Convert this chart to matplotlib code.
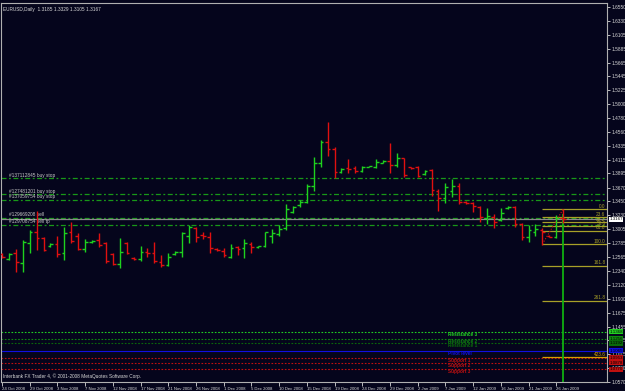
import matplotlib.pyplot as plt

plt.rcParams['font.family'] = ['Liberation Sans', 'DejaVu Sans']

# daily EURUSD bars, 24 Oct 2008 .. 27 Jan 2009 (MetaTrader keeps Sunday bars)
opens = [1.2611, 1.2532, 1.2627, 1.2468, 1.2787, 1.2962, 1.2867, 1.2739, 1.2771, 1.2627,
         1.2962, 1.2899, 1.2691, 1.2803, 1.2835, 1.2787, 1.2611, 1.2452, 1.2787, 1.2548,
         1.2532, 1.2643, 1.2627, 1.2484, 1.2436, 1.2611, 1.2643, 1.2899, 1.3026, 1.2915,
         1.2883, 1.2691, 1.2659, 1.2564, 1.2723, 1.2707, 1.2771, 1.2715, 1.2739, 1.2899,
         1.2931, 1.3026, 1.3281, 1.3393, 1.3441, 1.3696, 1.4063, 1.4398, 1.4286, 1.3919,
         1.3983, 1.3983, 1.3935, 1.3995, 1.3999, 1.4063, 1.4095, 1.4031, 1.4142, 1.3999,
         1.3999, 1.3887, 1.3951, 1.3616, 1.3505, 1.3616, 1.3696, 1.3441, 1.3425, 1.3361,
         1.3186, 1.3202, 1.3154, 1.3345, 1.3361, 1.3090, 1.2883, 1.2962, 1.2994, 1.2899,
         1.2883, 1.3185]
highs = [1.2627, 1.2627, 1.2691, 1.2835, 1.2994, 1.3297, 1.2883, 1.2787, 1.2899, 1.3042,
         1.3122, 1.2947, 1.2851, 1.2835, 1.2947, 1.2803, 1.2627, 1.2867, 1.2803, 1.2564,
         1.2739, 1.2707, 1.2803, 1.2596, 1.2627, 1.2659, 1.2962, 1.3074, 1.3042, 1.2962,
         1.2962, 1.2707, 1.2707, 1.2771, 1.2739, 1.2851, 1.2803, 1.2739, 1.2962, 1.3010,
         1.3074, 1.3409, 1.3377, 1.3473, 1.3728, 1.4158, 1.4429, 1.4717, 1.4318, 1.3983,
         1.4126, 1.4015, 1.4015, 1.4015, 1.4126, 1.4110, 1.4382, 1.4222, 1.4150, 1.4005,
         1.4015, 1.3951, 1.3967, 1.3648, 1.3744, 1.3807, 1.3744, 1.3457, 1.3433, 1.3369,
         1.3345, 1.3249, 1.3345, 1.3377, 1.3377, 1.3106, 1.3074, 1.3090, 1.3026, 1.2915,
         1.3234, 1.3329]
lows = [1.2548, 1.2516, 1.2324, 1.2324, 1.2627, 1.2675, 1.2659, 1.2723, 1.2564, 1.2516,
        1.2787, 1.2675, 1.2643, 1.2787, 1.2723, 1.2468, 1.2436, 1.2388, 1.2611, 1.2516,
        1.2500, 1.2564, 1.2468, 1.2404, 1.2420, 1.2596, 1.2564, 1.2787, 1.2803, 1.2851,
        1.2627, 1.2659, 1.2564, 1.2548, 1.2596, 1.2548, 1.2627, 1.2707, 1.2723, 1.2787,
        1.2899, 1.2994, 1.3265, 1.3361, 1.3425, 1.3616, 1.3999, 1.4174, 1.3823, 1.3903,
        1.3903, 1.3903, 1.3919, 1.3991, 1.3983, 1.4055, 1.3903, 1.3999, 1.3839, 1.3967,
        1.3839, 1.3871, 1.3536, 1.3297, 1.3425, 1.3521, 1.3409, 1.3409, 1.3281, 1.3122,
        1.3090, 1.3026, 1.3138, 1.3329, 1.3042, 1.2835, 1.2803, 1.2899, 1.2755, 1.2883,
        1.2867, 1.3105]
closes = [1.2564, 1.2611, 1.2484, 1.2803, 1.2962, 1.2867, 1.2675, 1.2771, 1.2611, 1.2947,
          1.2819, 1.2691, 1.2803, 1.2819, 1.2755, 1.2500, 1.2452, 1.2643, 1.2627, 1.2532,
          1.2643, 1.2627, 1.2500, 1.2436, 1.2564, 1.2643, 1.2947, 1.3042, 1.2883, 1.2899,
          1.2707, 1.2675, 1.2596, 1.2707, 1.2691, 1.2787, 1.2723, 1.2731, 1.2955, 1.2947,
          1.3010, 1.3329, 1.3361, 1.3441, 1.3696, 1.4063, 1.4398, 1.4286, 1.3919, 1.3967,
          1.3967, 1.3935, 1.3999, 1.4007, 1.4079, 1.4095, 1.4031, 1.4142, 1.3871, 1.3983,
          1.3855, 1.3935, 1.3632, 1.3505, 1.3680, 1.3696, 1.3441, 1.3425, 1.3377, 1.3202,
          1.3218, 1.3122, 1.3265, 1.3361, 1.3090, 1.2883, 1.2994, 1.3010, 1.2962, 1.2890,
          1.3186, 1.3167]

date_labels = ['24 Oct 2008', '29 Oct 2008', '3 Nov 2008', '7 Nov 2008', '12 Nov 2008',
               '17 Nov 2008', '21 Nov 2008', '26 Nov 2008', '1 Dec 2008', '5 Dec 2008',
               '10 Dec 2008', '15 Dec 2008', '19 Dec 2008', '24 Dec 2008', '29 Dec 2008',
               '2 Jan 2009', '7 Jan 2009', '12 Jan 2009', '16 Jan 2009', '21 Jan 2009',
               '26 Jan 2009']
price_labels = ['1.6550', '1.6330', '1.6105', '1.5885', '1.5665', '1.5445', '1.5225',
                '1.5000', '1.4780', '1.4560', '1.4335', '1.4115', '1.3895', '1.3670',
                '1.3450', '1.3230', '1.3005', '1.2785', '1.2565', '1.2340', '1.2120',
                '1.1900', '1.1675', '1.1455', '1.1235', '1.1015', '1.0790', '1.0570']

order_names = ['#137112845 buy stop', '#127481201 buy stop', '#137059754 buy stop',
               '#129669208 sell', '#129708754 sell tp']
order_prices = [1.3823, 1.3568, 1.3473, 1.3186, 1.3074]
bid = 1.3167

pivot_names = ['Resistance 3', 'Resistance 2', 'Resistance 1', 'Pivot level',
               'Support 1', 'Support 2', 'Support 3']
pivot_prices = [1.1368, 1.1256, 1.1192, 1.1065, 1.0953, 1.0878, 1.0770]
pivot_colors = ['#22d022', '#0e8a0e', '#0a6a0a', '#1010e0', '#c01010', '#c01010', '#c01010']

fib_levels = [0.0, 23.6, 38.2, 50.0, 61.8, 100.0, 161.8, 261.8, 423.6]
fib_low, fib_high = 1.2771, 1.3329
fib_start, fib_end = 78, 81

bg = '#05051c'
up, down = '#1ed21e', '#e01010'
fg = '#d8d8d8'

fig = plt.figure(figsize=(6.25, 3.91), dpi=100, facecolor=bg)
ax = fig.add_axes([0.0016, 9 / 391, 606 / 625, 379 / 391], facecolor=bg)
ax.set_xlim(-0.144, 87.32)
ax.set_ylim(1.0570, 1.6614)

# pivot levels
for name, p, col in zip(pivot_names, pivot_prices, pivot_colors):
    ls = '-' if name == 'Pivot level' else (0, (1.5, 1.5))
    ax.axhline(p, color=col, lw=0.8, ls=ls, zorder=1)
    ax.text(64.3, p, name, color=col, fontsize=3.4, fontweight='bold', va='top', ha='left')
    ax.text(1.004, p, '%.4f' % p, transform=ax.get_yaxis_transform(), color='#000000',
            fontsize=3.2, va='center', ha='left', clip_on=False, zorder=5,
            bbox=dict(boxstyle='square,pad=0.12', fc=col, ec='none'))

# order lines
for name, p in zip(order_names, order_prices):
    ax.axhline(p, color='#189818', lw=0.9, ls=(0, (4, 2, 1.5, 2)), zorder=1)
    ax.text(1.0, p + 0.0008, name, color='#c8c8c8', fontsize=3.4, va='bottom', ha='left')
ax.axhline(bid, color='#8a8a8a', lw=0.9, zorder=1)

# fibonacci retracement
rng = fib_high - fib_low
for lvl in fib_levels:
    p = fib_high - rng * lvl / 100
    col = '#d8a000' if lvl == 423.6 else '#a8a028'
    ax.hlines(p, fib_start, 87.32, color=col, lw=0.9, zorder=1)
    ax.text(87.1, p + 0.0006, '%.1f' % lvl, color=col, fontsize=3.4, va='bottom', ha='right')
ax.plot([fib_start, fib_end], [fib_low, fib_high], color='#d01010', lw=0.8, ls=(0, (1, 1.5)), zorder=1)
ax.vlines(fib_end, 1.0570, 1.3250, color='#10b010', lw=1.3, zorder=1)

# OHLC bars
xs = range(len(opens))
cols = [up if c >= o else down for o, c in zip(opens, closes)]
ax.vlines(xs, lows, highs, colors=cols, lw=1.0, zorder=3)
ax.hlines(opens, [x - 0.4 for x in xs], list(xs), colors=cols, lw=1.0, zorder=3)
ax.hlines(closes, list(xs), [x + 0.4 for x in xs], colors=cols, lw=1.0, zorder=3)

# axes like the terminal
for side in ['left', 'top', 'right', 'bottom']:
    ax.spines[side].set_color('#b0b0b0')
    ax.spines[side].set_linewidth(0.8)
ax.yaxis.tick_right()
ax.set_yticks([float(s) for s in price_labels])
ax.set_yticklabels(price_labels)
ax.set_xticks(range(0, 4 * len(date_labels), 4))
ax.set_xticklabels(date_labels, ha='left')
ax.tick_params(axis='y', colors=fg, labelsize=3.4, length=2, width=0.6, pad=1.2)
ax.tick_params(axis='x', colors=fg, labelsize=3.1, length=3, width=0.6, pad=0.3)

ax.text(1.004, bid, '%.4f' % bid, transform=ax.get_yaxis_transform(), color='#000000',
        fontsize=3.2, va='center', ha='left', clip_on=False, zorder=6,
        bbox=dict(boxstyle='square,pad=0.12', fc='white', ec='none'))

ax.text(0.004, 0.99, 'EURUSD,Daily  1.3185 1.3329 1.3105 1.3167', transform=ax.transAxes,
        color=fg, fontsize=3.4, va='top', ha='left')
ax.text(0.004, 0.008, 'Interbank FX Trader 4, \u00a9 2001-2008 MetaQuotes Software Corp.',
        transform=ax.transAxes, color=fg, fontsize=3.4, va='bottom', ha='left')

fig.savefig('out.png', dpi=100, facecolor=bg)
